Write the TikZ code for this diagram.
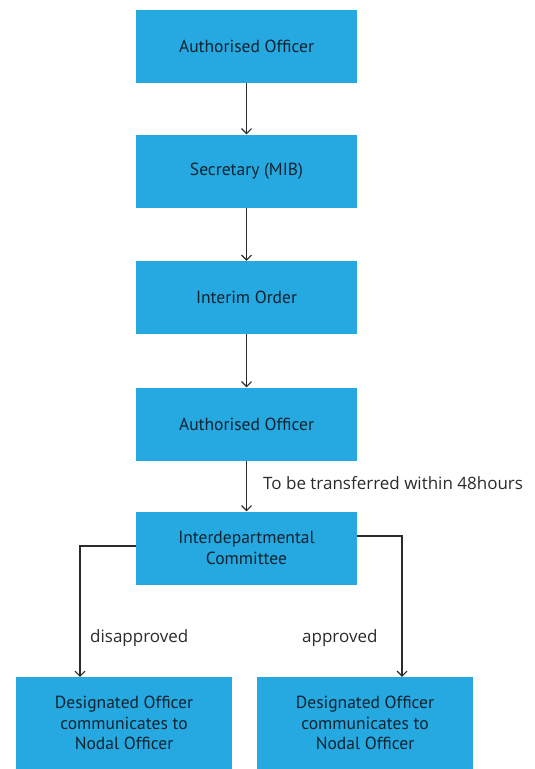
\documentclass[tikz,border=0pt]{standalone}
\usepackage{fontspec}
\setmainfont{PT Sans}
\newfontfamily\labelfont{Open Sans}
\usetikzlibrary{arrows.meta}
\definecolor{boxblue}{HTML}{26A9E0}
\definecolor{boxtext}{HTML}{0F2330}
\definecolor{linegray}{HTML}{2B2B2B}
\begin{document}
\begin{tikzpicture}[x=1pt,y=-1pt,
  box/.style={rectangle, fill=boxblue, draw=none, minimum width=221pt, minimum height=73pt,
    inner sep=0pt, align=center, text=boxtext, font=\fontsize{17.5}{20.5}\selectfont},
  smallbox/.style={box, minimum width=216pt, minimum height=92pt},
  conn/.style={draw=linegray, line width=1.1pt, -{Straight Barb[length=5pt,width=10pt,line width=1.1pt]}},
  lbl/.style={anchor=base west, inner sep=0pt, text=linegray, font=\labelfont\fontsize{17}{19}\selectfont}]
\useasboundingbox (0,0) rectangle (535,769);
\fill[white] (0,0) rectangle (535,769);
\node[box] (b1) at (246.5,46.5) {Authorised Officer};
\node[box] (b2) at (246.5,171) {Secretary (MIB)};
\node[box] (b3) at (246.5,297.5) {Interim Order};
\node[box] (b4) at (246.5,424) {Authorised Officer};
\node[box] (b5) at (246.5,548) {Interdepartmental\\Committee};
\node[smallbox] (b6) at (124,723) {Designated Officer\\communicates to\\Nodal Officer};
\node[smallbox] (b7) at (365,723) {Designated Officer\\communicates to\\Nodal Officer};
\coordinate (lc) at (80,546);
\coordinate (rc) at (402,536);
\draw[conn] (b1.south) -- (b2.north);
\draw[conn] (b2.south) -- (b3.north);
\draw[conn] (b3.south) -- (b4.north);
\draw[conn] (b4.south) -- (b5.north);
\draw[conn] (b5.west |- lc) -- (lc) -- (lc |- b6.north);
\draw[conn] (b5.east |- rc) -- (rc) -- (rc |- b7.north);
\node[lbl] (t1) at (263,489) {To be transferred within 48hours};
\node[lbl] (t2) at (90,642) {disapproved};
\node[lbl] (t3) at (302,642) {approved};
\end{tikzpicture}
\end{document}
